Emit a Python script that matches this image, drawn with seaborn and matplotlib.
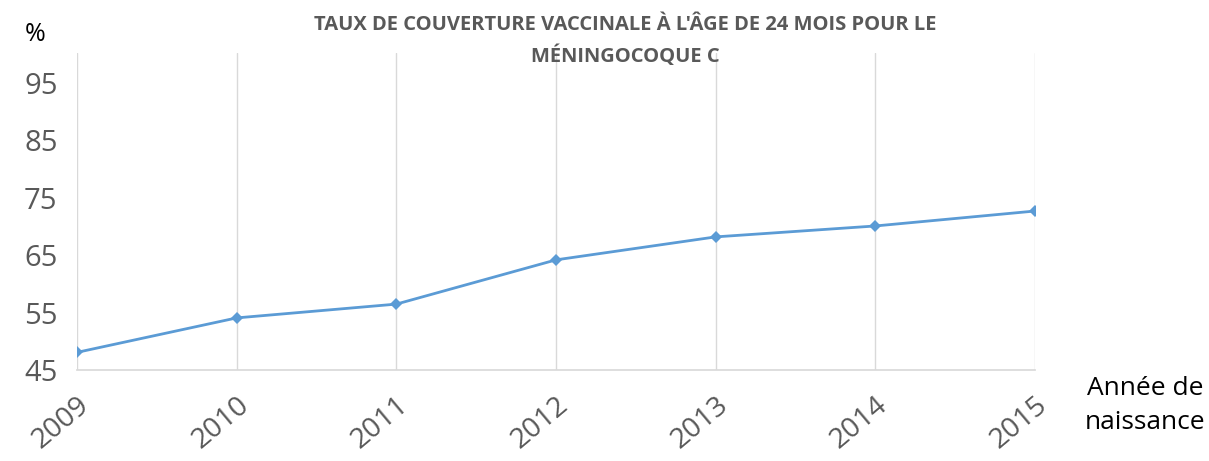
import numpy as np
import pandas as pd
import matplotlib
matplotlib.use("Agg")
import matplotlib.pyplot as plt
import seaborn as sns

# data
years = ["2009", "2010", "2011", "2012", "2013", "2014", "2015"]
coverage = [48.1, 54.1, 56.5, 64.2, 68.2, 70.1, 72.7]
y_ticks = [45, 55, 65, 75, 85, 95]

df = pd.DataFrame({"pos": np.arange(len(years)), "coverage": coverage})

sns.set_theme(style="white")
plt.rcParams['font.family'] = ['Open Sans', 'DejaVu Sans']

fig = plt.figure(figsize=(12.09, 4.61), dpi=100)
ax = fig.add_axes([0.0637, 0.197, 0.7924, 0.688])

sns.lineplot(data=df, x="pos", y="coverage", ax=ax, color="#5B9BD5",
             linewidth=2, marker="D", markersize=6, markeredgewidth=0)

ax.set_xlim(0, len(years) - 1)
ax.set_ylim(45, 100.2)
ax.set_yticks(y_ticks)
ax.set_yticklabels([str(t) for t in y_ticks], fontsize=21, color="#595959")
ax.set_xticks(df["pos"])
ax.set_xticklabels(years, fontsize=20.5, color="#595959", rotation=40,
                   ha="right", rotation_mode="anchor")
ax.tick_params(axis="y", length=0, pad=14)
ax.tick_params(axis="x", length=0, pad=15)

ax.grid(axis="x", color="#d9d9d9", linewidth=1)
ax.grid(axis="y", visible=False)
for s in ["left", "right", "top"]:
    ax.spines[s].set_visible(False)
ax.spines["bottom"].set_color("#d9d9d9")
ax.set_xlabel("")
ax.set_ylabel("")

# title sits a bit right of the axes centre in the original
title = "TAUX DE COUVERTURE VACCINALE À L'ÂGE DE 24 MOIS POUR LE\nMÉNINGOCOQUE C"
fig.text(0.517, 0.911, title, ha="center", va="center", fontsize=14.5,
         fontweight="bold", color="#595959", linespacing=1.6)
fig.text(0.029, 0.925, "%", ha="center", va="center", fontsize=18, color="black")
fig.text(0.947, 0.12, "Année de\nnaissance", ha="center", va="center",
         fontsize=19, color="black", linespacing=1.5)

fig.savefig("out.png", dpi=100)
